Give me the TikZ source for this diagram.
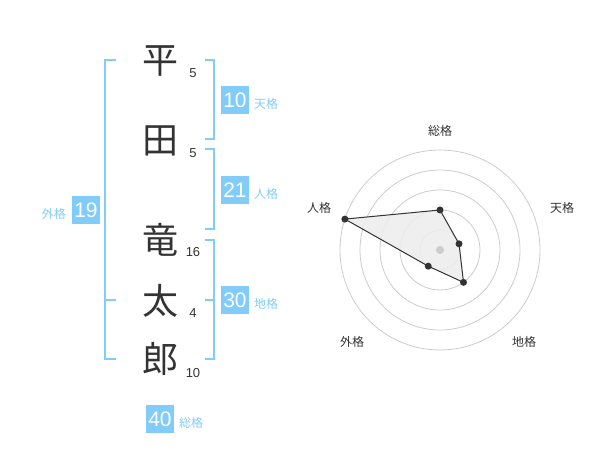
\documentclass[tikz,border=0pt]{standalone}
\usepackage{fontspec}
\setmainfont{Liberation Sans}
\newfontfamily\jp{Noto Sans CJK JP}
\usetikzlibrary{calc}
\definecolor{kblue}{HTML}{82CCFA}
\definecolor{ktext}{HTML}{333333}
\definecolor{kring}{HTML}{CCCCCC}
\begin{document}
\begin{tikzpicture}[x=1pt,y=-1pt,
  kanji/.style={font=\jp\fontsize{36}{36}\selectfont, text=ktext, inner sep=0},
  num/.style={font=\fontsize{13}{13}\selectfont, text=ktext, inner sep=0},
  vbox/.style={fill=kblue, text=white, minimum width=28, minimum height=28, inner sep=0, font=\fontsize{21}{21}\selectfont},
  klabel/.style={font=\jp\fontsize{12}{12}\selectfont, text=kblue, inner sep=0},
  rlabel/.style={font=\jp\fontsize{12}{12}\selectfont, text=ktext, inner sep=0},
  bracket/.style={draw=kblue, line width=2},
  ring/.style={draw=kring, line width=0.8},
  dotpt/.style={circle, fill=ktext, minimum size=7, inner sep=0},
  edge/.style={draw=ktext, line width=1}
]
\useasboundingbox (0,0) rectangle (600,470);

% kanji
\node[kanji] (k1) at (160,61) {平};
\node[kanji] (k2) at (160,141) {田};
\node[kanji] (k3) at (160,240) {竜};
\node[kanji] (k4) at (160,301) {太};
\node[kanji] (k5) at (160,359) {郎};

% stroke numbers
\node[num] (n1) at (193,73) {5};
\node[num] (n2) at (193,153) {5};
\node[num] (n3) at (193,252) {16};
\node[num] (n4) at (193,313) {4};
\node[num] (n5) at (193,373) {10};

% brackets
\draw[bracket] (116,60) -- (105,60) -- (105,359) -- (116,359);
\draw[bracket] (105,300) -- (116,300);
\draw[bracket] (205,60) -- (214,60) -- (214,139) -- (205,139);
\draw[bracket] (205,149) -- (214,149) -- (214,229) -- (205,229);
\draw[bracket] (205,240) -- (214,240) -- (214,359) -- (205,359);
\draw[bracket] (214,300) -- (205,300);

% value boxes
\node[vbox] (ten) at (235,100) {10};
\node[klabel, anchor=west] (tenl) at (254,104) {天格};
\node[vbox] (jin) at (235,190) {21};
\node[klabel, anchor=west] (jinl) at (254,194) {人格};
\node[vbox] (chi) at (235,300) {30};
\node[klabel, anchor=west] (chil) at (254,304) {地格};
\node[vbox] (gai) at (86,210) {19};
\node[klabel, anchor=east] (gail) at (66,214) {外格};
\node[vbox] (sou) at (160,419) {40};
\node[klabel, anchor=west] (soul) at (179,423) {総格};

% radar chart
\coordinate (c) at (440,250);
\foreach \r in {20,40,60,80,100} \draw[ring] (c) circle[radius=\r];

\coordinate (pS) at ($(c)+(-90:40)$);
\coordinate (pT) at ($(c)+(-18:20)$);
\coordinate (pC) at ($(c)+(54:40)$);
\coordinate (pG) at ($(c)+(126:20)$);
\coordinate (pJ) at ($(c)+(-162:100)$);
\fill[black!7, opacity=0.9] (pS) -- (pT) -- (pC) -- (pG) -- (pJ) -- cycle;
\fill[kring] (c) circle[radius=4];

\node[dotpt] (dS) at (pS) {};
\node[dotpt] (dT) at (pT) {};
\node[dotpt] (dC) at (pC) {};
\node[dotpt] (dG) at (pG) {};
\node[dotpt] (dJ) at (pJ) {};
\draw[edge] (dS.center) -- (dT.center) -- (dC.center) -- (dG.center) -- (dJ.center) -- (dS.center);

\node[rlabel] (lS) at (440,131) {総格};
\node[rlabel] (lT) at (562,208) {天格};
\node[rlabel] (lC) at (524,342) {地格};
\node[rlabel] (lG) at (352,342) {外格};
\node[rlabel] (lJ) at (319,208) {人格};
\end{tikzpicture}
\end{document}
